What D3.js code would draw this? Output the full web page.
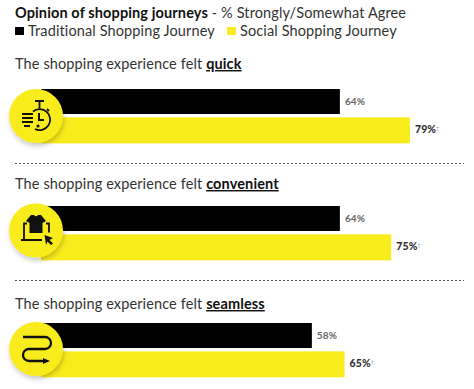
<!DOCTYPE html>
<html>
<head>
<meta charset="utf-8">
<script src="https://cdn.jsdelivr.net/npm/d3@7"></script>
<style>
  html, body { margin: 0; padding: 0; background: #fff; }
  text { font-family: Lato, sans-serif; fill: #222; letter-spacing: 0.12px; }
</style>
</head>
<body>
<div id="chart"></div>
<script>
// the data
const categories = ["quick", "convenient", "seamless"];
const seriesNames = ["Traditional Shopping Journey", "Social Shopping Journey"];
const traditional = [64, 64, 58];
const social = [79, 75, 65];

// chart dimensions
const width = 474;
const height = 389;
const barHeight = 25;
const black = "#000000";
const yellow = "#f9ec1c";

// the three blocks are not quite evenly laid out in the original
const headingOffset = [-20, -17, -14];
const iconOffset = [27, 24.5, 26];

// 0 sits under the icon circle
const x = d3.scaleLinear().domain([0, 100]).range([41, 508]);
const y = d3.scalePoint().domain(categories).range([89, 323]);
const series = d3.scaleBand().domain([0, 1]).range([0, 55]).paddingInner(0.06);

const svg = d3.select("#chart").append("svg")
    .attr("width", width)
    .attr("height", height)
    .attr("viewBox", [0, 0, width, height])
    .style("display", "block");

const defs = svg.append("defs");
defs.append("filter")
    .attr("id", "shadow")
    .attr("x", "-30%").attr("y", "-30%").attr("width", "160%").attr("height", "170%")
    .append("feDropShadow")
    .attr("dx", 1).attr("dy", 3).attr("stdDeviation", 2.5)
    .attr("flood-color", "#000").attr("flood-opacity", 0.22);

// title and legend
const title = svg.append("text").attr("x", 15).attr("y", 18).attr("font-size", 14.5);
title.append("tspan").attr("font-weight", 700).style("fill", "#111").text("Opinion of shopping journeys");
title.append("tspan").style("fill", "#333").text(" - % Strongly/Somewhat Agree");

const legendX = [15, 227];
seriesNames.forEach((name, i) => {
    svg.append("rect")
        .attr("x", legendX[i]).attr("y", 27)
        .attr("width", 9).attr("height", 8)
        .attr("fill", i === 0 ? black : yellow);
    svg.append("text")
        .attr("x", legendX[i] + 13).attr("y", 36)
        .attr("font-size", 14.5)
        .style("fill", "#333")
        .text(name);
});

// one group per statement
const groups = svg.selectAll("g.group")
    .data(categories)
    .join("g")
    .attr("class", "group")
    .attr("transform", d => `translate(0,${y(d)})`);

const heading = groups.append("text")
    .attr("x", 15).attr("y", (d, i) => headingOffset[i])
    .attr("font-size", 14.5);
heading.append("tspan").style("fill", "#333").text("The shopping experience felt ");
heading.append("tspan")
    .attr("font-weight", 700)
    .style("fill", "#111")
    .attr("text-decoration", "underline")
    .text(d => d);

groups.append("rect")
    .attr("x", x(0))
    .attr("y", series(0))
    .attr("height", barHeight)
    .attr("width", (d, i) => x(traditional[i]) - x(0))
    .attr("fill", black);

groups.append("rect")
    .attr("x", x(0))
    .attr("y", series(1))
    .attr("height", barHeight + 1)
    .attr("width", (d, i) => x(social[i]) - x(0))
    .attr("fill", yellow);

groups.append("text")
    .attr("x", (d, i) => x(traditional[i]) + 5)
    .attr("y", series(0) + 16)
    .attr("font-size", 10)
    .attr("font-weight", 700)
    .style("fill", "#666")
    .text((d, i) => traditional[i] + "%");

const socialLabel = groups.append("text")
    .attr("x", (d, i) => x(social[i]) + 5)
    .attr("y", series(1) + 16)
    .attr("font-size", 10.5)
    .attr("font-weight", 900)
    .style("fill", "#333")
    .text((d, i) => social[i] + "%");
socialLabel.append("tspan")
    .attr("font-size", 5)
    .attr("dy", -3)
    .attr("font-weight", 400)
    .style("fill", "#999")
    .text("†");

// separators
svg.selectAll("line.sep")
    .data(categories.slice(0, 2))
    .join("line")
    .attr("class", "sep")
    .attr("x1", 15).attr("x2", 464)
    .attr("y1", d => y(d) + 74.5).attr("y2", d => y(d) + 74.5)
    .attr("stroke", "#555")
    .attr("stroke-dasharray", "2 2");

// icon circles
const icons = groups.append("g")
    .attr("transform", (d, i) => `translate(36,${iconOffset[i]})`);

icons.append("circle")
    .attr("r", 27)
    .attr("fill", yellow)
    .attr("filter", "url(#shadow)");

const ink = icons.append("g")
    .attr("fill", "none")
    .attr("stroke", "#111")
    .attr("stroke-width", 1.8);

// stopwatch
const watch = ink.filter(d => d === "quick");
watch.append("path").attr("d", "M-3 -4.5A10.5 10.5 0 1 1 -1 13");
watch.append("path").attr("d", "M-1 -15H8M3.5 -15V-7.5M11 -7L13 -5");
watch.append("path").attr("stroke-width", 2).attr("d", "M3 -3V4H8");
watch.append("path").attr("stroke-width", 1.9).attr("d", "M-14 -2H-3M-14 2H-3M-14 6H-3M-12 10H-6");
watch.append("circle").attr("cx", 2).attr("cy", 10).attr("r", 0.7);

// shirt over a screen with a pointer
const shirt = ink.filter(d => d === "convenient");
shirt.append("path").attr("d", "M-9 -7H-12V9.5M-15 9.5H6M10 -7H13V2");
shirt.append("path")
    .attr("fill", "#111").attr("stroke", "none")
    .attr("d", "M-5 -15.5L-2 -15.5Q0 -13 2 -15.5L5 -15.5L10 -9.5L6.5 -7.5V2.5H-6.5V-7.5L-10 -9.5Z");
shirt.append("path")
    .attr("fill", "#111").attr("stroke", "none")
    .attr("d", "M8.5 4.5L17 7.5L13.5 9.5L17 13L15 14.5L11.5 11L10 14.5Z");

// winding arrow
const route = ink.filter(d => d === "seamless");
route.append("path")
    .attr("stroke-width", 2.3)
    .attr("d", "M-13 -12H9A6 6 0 0 1 9 0H-7A6 6 0 0 0 -7 12H8");
route.append("path")
    .attr("fill", "#111").attr("stroke", "none")
    .attr("d", "M7 9L14 12L7 15Z");
</script>
</body>
</html>
